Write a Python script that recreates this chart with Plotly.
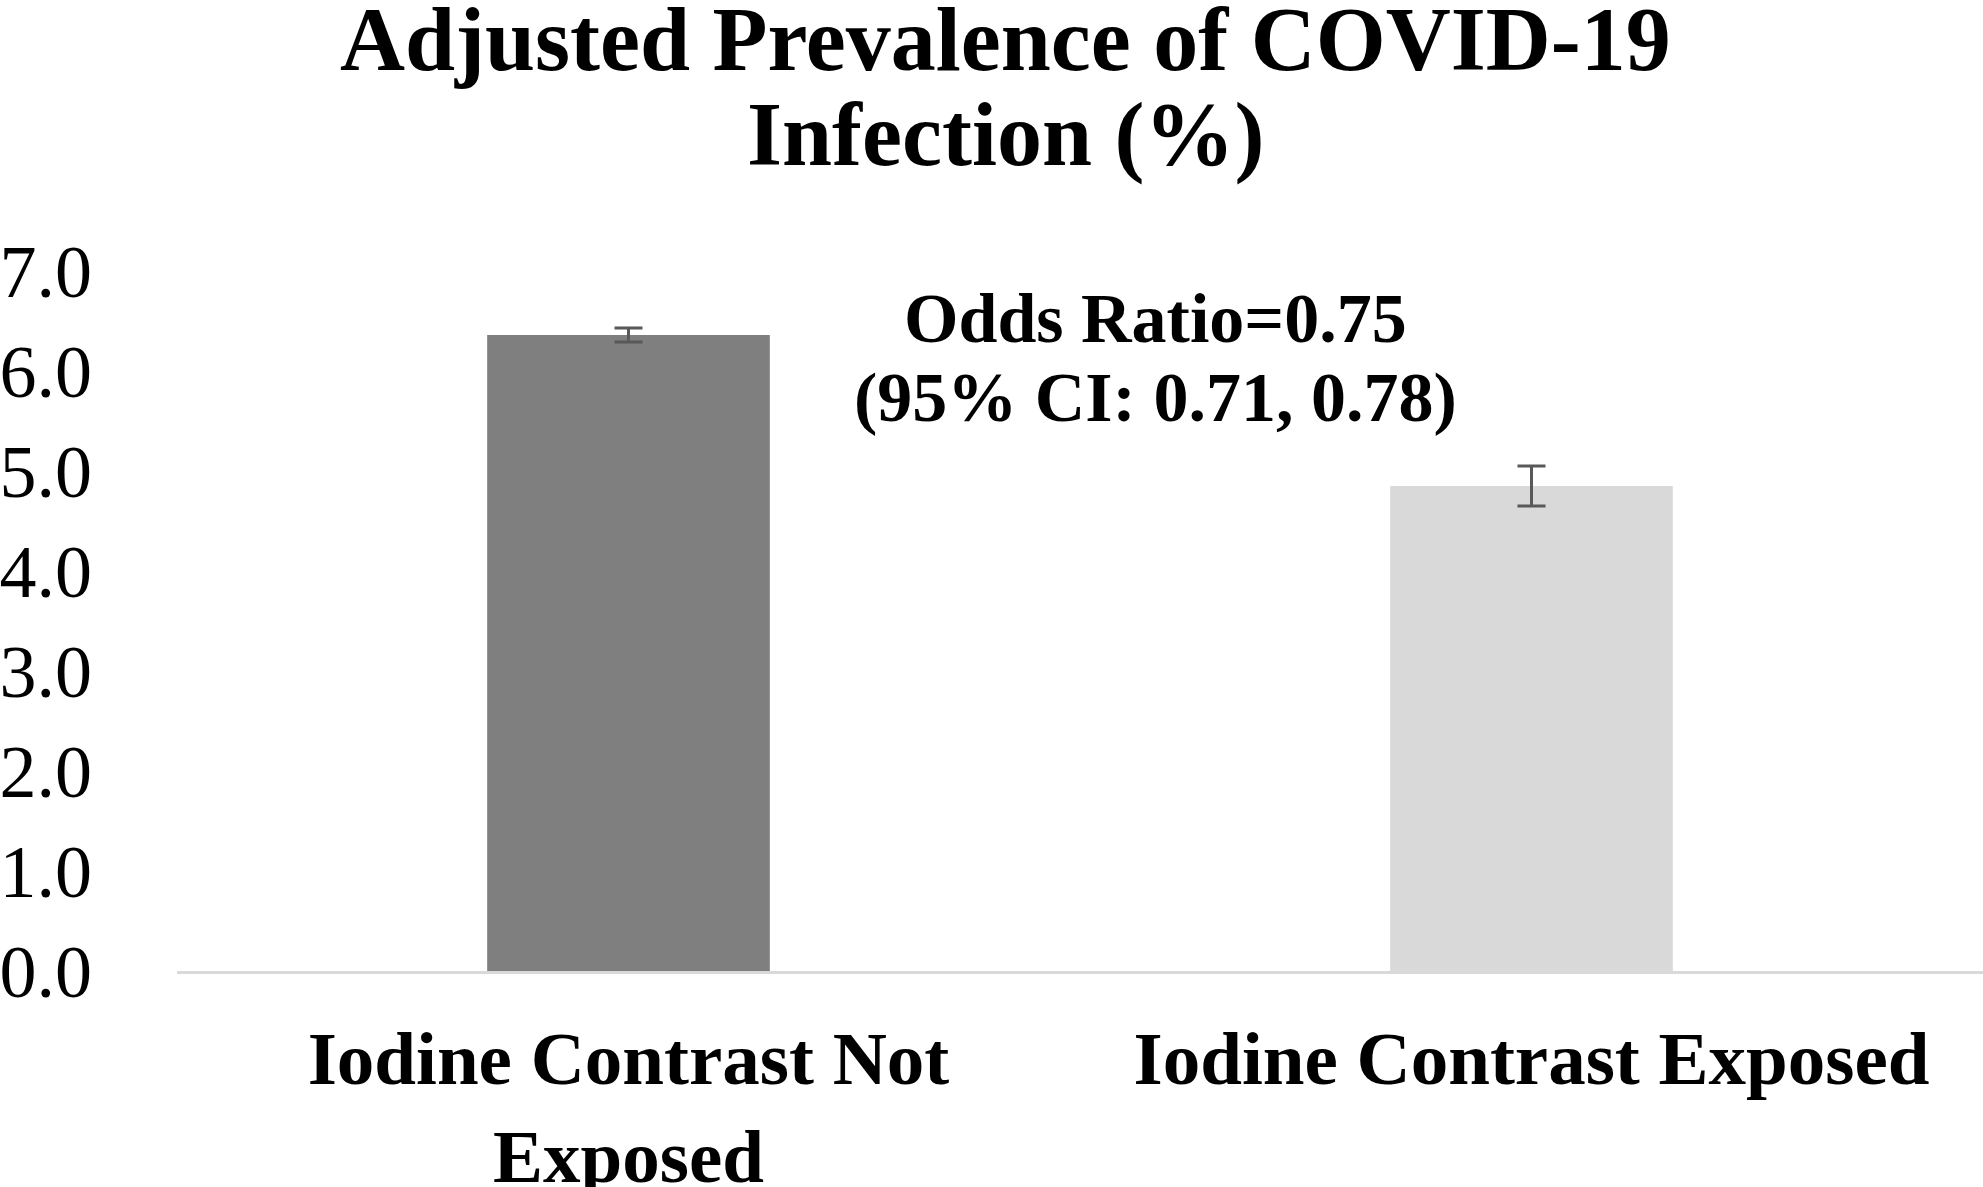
import plotly.graph_objects as go

# Data
categories = ['Iodine Contrast Not<br>Exposed', 'Iodine Contrast Exposed']
prevalence = [6.36, 4.85]
ci_error = [0.07, 0.2]
bar_colours = ['#7f7f7f', '#d9d9d9']
y_ticks = [0, 1, 2, 3, 4, 5, 6, 7]
y_tick_labels = ['0.0', '1.0', '2.0', '3.0', '4.0', '5.0', '6.0', '7.0']
title_lines = ['Adjusted Prevalence of COVID-19', 'Infection (%)']
odds_lines = ['Odds Ratio=0.75', '(95% CI: 0.71, 0.78)']

SERIF = 'Liberation Serif'

fig = go.Figure()

fig.add_trace(
    go.Bar(
        x=categories,
        y=prevalence,
        marker={'color': bar_colours, 'line': {'width': 0}},
        error_y={
            'type': 'data',
            'array': ci_error,
            'color': '#595959',
            'thickness': 3,
            'width': 14,
        },
        showlegend=False,
    )
)

# Title, drawn line by line to keep the tight line spacing
for text, ypos in zip(title_lines, [1.331, 1.194]):
    fig.add_annotation(
        text='<b>%s</b>' % text,
        xref='paper', yref='paper',
        x=0.4585, y=ypos,
        xanchor='center', yanchor='middle',
        showarrow=False,
        font={'family': SERIF, 'size': 90, 'color': 'black'},
    )

# Odds ratio label
for text, ypos in zip(odds_lines, [6.53, 5.74]):
    fig.add_annotation(
        text='<b>%s</b>' % text,
        xref='x', yref='y',
        x=0.584, y=ypos,
        xanchor='center', yanchor='middle',
        showarrow=False,
        font={'family': SERIF, 'size': 70, 'color': 'black'},
    )

fig.update_layout(
    width=1983,
    height=1187,
    paper_bgcolor='white',
    plot_bgcolor='white',
    bargap=0.687,
    hovermode=False,
    margin={'l': 177, 'r': 0, 't': 271, 'b': 216, 'pad': 0},
    font={'family': SERIF, 'color': 'black'},
    xaxis=dict(
        automargin=False,
        showgrid=False,
        zeroline=False,
        showline=True,
        linecolor='#d9d9d9',
        linewidth=3,
        ticks='',
        ticklabelstandoff=20,
        tickfont={'family': SERIF, 'size': 75, 'color': 'black'},
        range=[-0.5, 1.5],
    ),
    yaxis=dict(
        automargin=False,
        range=[0, 7],
        tickvals=y_ticks,
        ticktext=y_tick_labels,
        showgrid=False,
        zeroline=False,
        showline=False,
        ticks='',
        ticklabelstandoff=84,
        tickfont={'family': SERIF, 'size': 74, 'color': 'black'},
    ),
)

# x tick labels are bold in the reference
fig.update_xaxes(ticktext=['<b>%s</b>' % c for c in categories],
                 tickvals=categories)

# drop the default 8 px page margin so the figure fills the window
fig.write_html('out.html',
               config={'displayModeBar': False},
               post_script="document.body.style.margin = '0';")
